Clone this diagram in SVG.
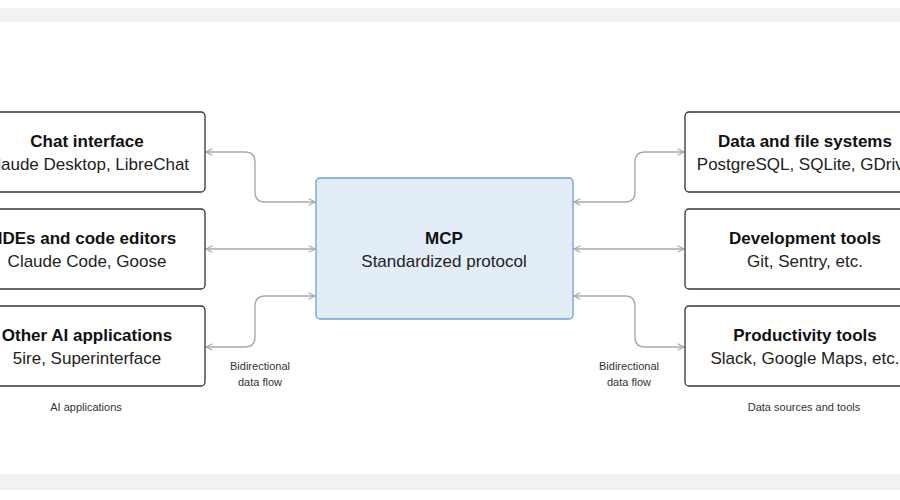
<svg xmlns="http://www.w3.org/2000/svg" width="900" height="500" viewBox="0 0 900 500">
<style>
.box{fill:#fff;stroke:#333;stroke-width:1.3}
.t{font-family:"Liberation Sans",Arial,sans-serif;text-anchor:middle;fill:#111}
.h{font-size:17px;font-weight:bold}
.s{font-size:17px;fill:#222}
.c{font-size:11px;fill:#333}
.ln{fill:none;stroke:#aaa;stroke-width:1.4;marker-start:url(#a);marker-end:url(#a)}
</style>
<defs>
<marker id="a" viewBox="0 0 10 10" refX="9" refY="5" markerWidth="8" markerHeight="8" orient="auto-start-reverse" markerUnits="userSpaceOnUse"><path d="M1,1 L9,5 L1,9" fill="none" stroke="#aaa" stroke-width="1.4"/></marker>
</defs>
<rect width="900" height="500" fill="#fff"/>
<rect x="0" y="8" width="900" height="14" fill="#f2f2f2"/>
<rect x="0" y="474" width="900" height="16" fill="#f2f2f2"/>
<g id="connectors">
<path class="ln" d="M206,152 H245 Q255,152 255,162 V192 Q255,202 265,202 H315"/>
<path class="ln" d="M206,249 H315"/>
<path class="ln" d="M206,347 H245 Q255,347 255,337 V306 Q255,296 265,296 H315"/>
<path class="ln" d="M574,202 H625 Q635,202 635,192 V162 Q635,152 645,152 H684"/>
<path class="ln" d="M574,249 H684"/>
<path class="ln" d="M574,296 H625 Q635,296 635,306 V337 Q635,347 645,347 H684"/>
</g>
<g id="chat"><rect class="box" x="-30" y="112" width="235" height="80" rx="4"/><text class="t h" x="87" y="147">Chat interface</text><text class="t s" x="87" y="170">Claude Desktop, LibreChat</text></g>
<g id="ides"><rect class="box" x="-30" y="209" width="235" height="80" rx="4"/><text class="t h" x="87" y="244">IDEs and code editors</text><text class="t s" x="87" y="267">Claude Code, Goose</text></g>
<g id="other"><rect class="box" x="-30" y="306" width="235" height="80" rx="4"/><text class="t h" x="87" y="341">Other AI applications</text><text class="t s" x="87" y="364">5ire, Superinterface</text></g>
<g id="mcp"><rect x="316" y="178" width="257" height="141" rx="4" fill="#e3edf8" stroke="#6f9fd8" stroke-width="1.3"/><text class="t h" x="444" y="244">MCP</text><text class="t s" x="444" y="267">Standardized protocol</text></g>
<g id="data"><rect class="box" x="685" y="112" width="240" height="80" rx="4"/><text class="t h" x="805" y="147">Data and file systems</text><text class="t s" x="805" y="170">PostgreSQL, SQLite, GDrive</text></g>
<g id="dev"><rect class="box" x="685" y="209" width="240" height="80" rx="4"/><text class="t h" x="805" y="244">Development tools</text><text class="t s" x="805" y="267">Git, Sentry, etc.</text></g>
<g id="prod"><rect class="box" x="685" y="306" width="240" height="80" rx="4"/><text class="t h" x="805" y="341">Productivity tools</text><text class="t s" x="805" y="364">Slack, Google Maps, etc.</text></g>
<g id="labels">
<text class="t c" x="260" y="370">Bidirectional</text><text class="t c" x="260" y="386">data flow</text>
<text class="t c" x="629" y="370">Bidirectional</text><text class="t c" x="629" y="386">data flow</text>
<text class="t c" x="86" y="411">AI applications</text>
<text class="t c" x="804" y="411">Data sources and tools</text>
</g>
</svg>
